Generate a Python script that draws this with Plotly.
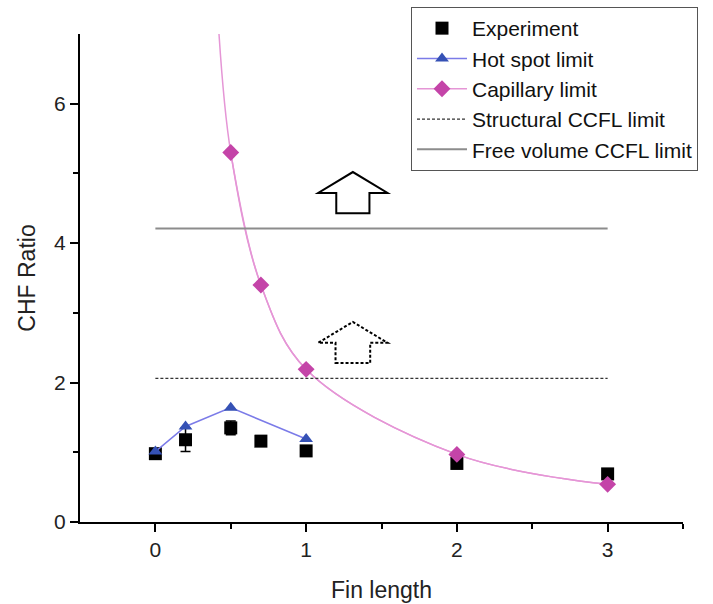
import plotly.graph_objects as go

# Measured CHF ratio versus fin length
exp_x = [0, 0.2, 0.5, 0.7, 1.0, 2.0, 3.0]
exp_y = [0.98, 1.18, 1.35, 1.16, 1.02, 0.84, 0.69]
exp_err = [0.0, 0.17, 0.1, 0.0, 0.0, 0.0, 0.0]

# Hot spot limit model
hot_x = [0, 0.2, 0.5, 1.0]
hot_y = [1.01, 1.37, 1.64, 1.19]

# Capillary limit model (markers) and its curve
cap_x = [0.5, 0.7, 1.0, 2.0, 3.0]
cap_y = [5.30, 3.40, 2.19, 0.97, 0.54]
cap_curve_x = [0.422, 0.5, 0.7, 1.0, 2.0, 3.0]
cap_curve_y = [7.0, 5.30, 3.40, 2.19, 0.97, 0.54]

# CCFL limits (horizontal levels spanning the fin-length range)
ccfl_x = [0, 3]
structural_ccfl = 2.06
free_volume_ccfl = 4.21

FONT = "Arial, Liberation Sans, sans-serif"

fig = go.Figure()

fig.add_trace(go.Scatter(
    x=cap_curve_x, y=cap_curve_y, mode="lines", line_shape="spline",
    line=dict(color="#e596d6", width=1.5), showlegend=False, hoverinfo="skip"))

fig.add_trace(go.Scatter(
    x=exp_x, y=exp_y, mode="markers", name="Experiment",
    marker=dict(symbol="square", size=13, color="black"),
    error_y=dict(type="data", array=exp_err, color="black", thickness=1.5, width=5)))

fig.add_trace(go.Scatter(
    x=hot_x, y=hot_y, mode="lines+markers", name="Hot spot limit",
    line=dict(color="#7b7be8", width=1.5),
    marker=dict(symbol="triangle-up", size=12, color="#3551b5")))

fig.add_trace(go.Scatter(
    x=cap_x, y=cap_y, mode="lines+markers", name="Capillary limit",
    line=dict(color="#e596d6", width=1.5, shape="spline"),
    marker=dict(symbol="diamond", size=13, color="#c444a8")))

fig.add_trace(go.Scatter(
    x=ccfl_x, y=[structural_ccfl] * 2, mode="lines", name="Structural CCFL limit",
    line=dict(color="#333333", width=1.3, dash="3px,2px")))

fig.add_trace(go.Scatter(
    x=ccfl_x, y=[free_volume_ccfl] * 2, mode="lines", name="Free volume CCFL limit",
    line=dict(color="#8c8c8c", width=2)))


def up_arrow(cx, y_bottom, y_neck, y_tip, head_half, shaft_half):
    return (f"M {cx - shaft_half},{y_bottom} L {cx + shaft_half},{y_bottom} "
            f"L {cx + shaft_half},{y_neck} L {cx + head_half},{y_neck} "
            f"L {cx},{y_tip} L {cx - head_half},{y_neck} "
            f"L {cx - shaft_half},{y_neck} Z")


# Upward arrows above each CCFL level
fig.add_shape(type="path", xref="x", yref="y",
              path=up_arrow(1.31, 4.43, 4.72, 5.02, 0.23, 0.11),
              line=dict(color="black", width=2), fillcolor="rgba(0,0,0,0)")
fig.add_shape(type="path", xref="x", yref="y",
              path=up_arrow(1.31, 2.28, 2.57, 2.87, 0.23, 0.115),
              line=dict(color="black", width=2, dash="3px,2px"), fillcolor="rgba(0,0,0,0)")

axis_common = dict(
    showline=True, linecolor="black", linewidth=2, mirror=False,
    ticks="outside", ticklen=8, tickwidth=2, tickcolor="black",
    showgrid=False, zeroline=False, automargin=False,
    tickfont=dict(family=FONT, size=21, color="#222"),
)

fig.update_xaxes(
    range=[-0.5, 3.5], tickvals=[0, 1, 2, 3],
    minor=dict(tickvals=[0.5, 1.5, 2.5, 3.5], ticks="outside", ticklen=5, tickwidth=2, tickcolor="black"),
    title=dict(text="Fin length", font=dict(family=FONT, size=23, color="#222"), standoff=22),
    **axis_common)
fig.update_yaxes(
    range=[0, 7], tickvals=[0, 2, 4, 6],
    minor=dict(tickvals=[1, 3, 5], ticks="outside", ticklen=5, tickwidth=2, tickcolor="black"),
    title=dict(text="CHF Ratio", font=dict(family=FONT, size=23, color="#222"), standoff=12),
    **axis_common)

fig.update_layout(
    width=713, height=604,
    margin=dict(l=80, r=30, t=34, b=82, autoexpand=False),
    plot_bgcolor="white", paper_bgcolor="white",
    font=dict(family=FONT, color="#222"),
    legend=dict(
        x=(411 - 80) / 603, y=(522 - 7) / 488, xanchor="left", yanchor="top",
        bgcolor="white", bordercolor="#555", borderwidth=1,
        font=dict(family=FONT, size=21, color="#111"),
        itemwidth=50, tracegroupgap=0,
    ),
)

fig.write_html("out.html")
